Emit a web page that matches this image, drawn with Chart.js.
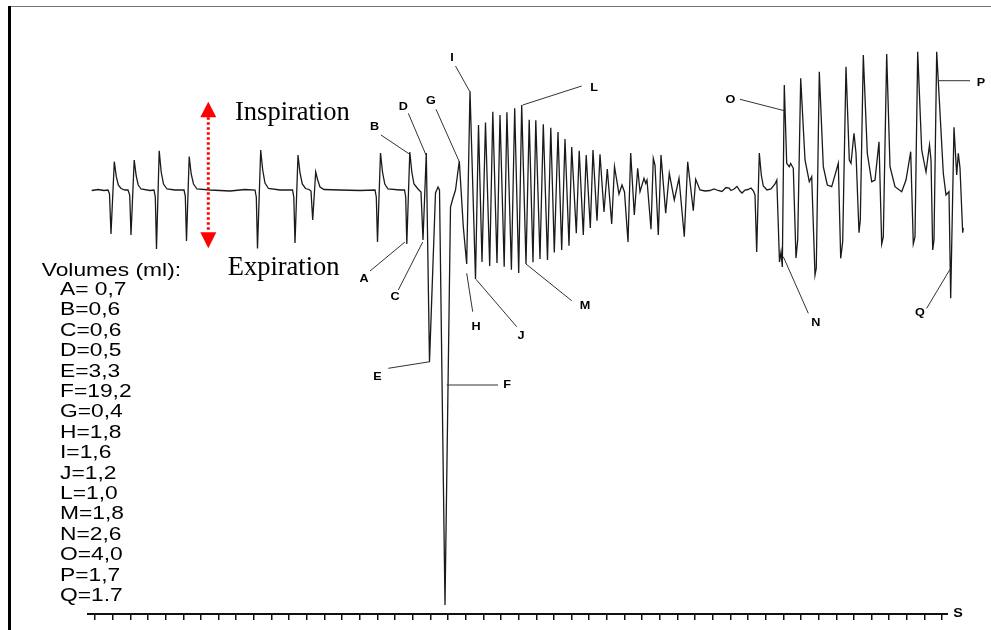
<!DOCTYPE html>
<html><head><meta charset="utf-8">
<script src="https://cdn.jsdelivr.net/npm/chart.js@4.4.1/dist/chart.umd.min.js"></script>
<style>html,body{margin:0;padding:0;background:#fff;}canvas{display:block}</style>
</head><body>
<canvas id="c" width="991" height="630"></canvas>
<script>
// Respiratory trace: time (sample units, 17.65 per tick) and volume signal (a.u.)
const t = [1.7,8,14,
18,19.5,21,24.3,26.3,28.3,31,35,
38,39.7,41,44.2,46.2,48.2,51,60,
64,65.3,66.5,69.2,71.2,73.5,77,85,
94,95.3,96.5,99.2,101.2,103.5,107,120,140,155,
165,166.3,167.5,170.7,172.7,175,178.5,190,
202.5,203.8,205,208,210,212.3,215.5,219,
221,222.7,225.7,227.7,230,234,250,270,
285,286.3,287.5,290.5,292.5,294.8,298,310,
314.5,315.7,316.8,319.8,321.8,324,328,
331,333,336.3,339.5,345.5,348,349.5,
355,360.5,363,365.5,369.3,
373.3,376.7,380,385.5,
388.5,392,395.5,399.7,402.8,407,410,414.2,416.9,421.4,424.7,428.7,431.7,436,439.2,443,445.8,450,453.3,457.5,460.8,464.3,468,471.7,475,479,481.7,486.3,489.2,493.3,496.2,500.3,503,507,510,514,517.3,521.7,524.5,529,532,534.5,538,540.7,
544.3,547.7,550,554,555.7,557,561,563.3,565,568.3,571,575.7,579.3,584.3,589,594.3,597.7,603.3,605.7,610,
615,620,624,628,632,636,639,641,644,647,650,652,655,658,661,663.5,
665,666.7,669.3,671.3,673.3,677,681,685,686.8,
689.5,691,692.3,694.3,
696.7,699.3,700.7,703.3,706,707.7,710.7,
715,719.3,721.7,725,726.3,729.3,
733.3,737.3,741.7,748.3,750.7,752.7,756,
759.3,761,764,766,769,770.3,773.3,
777.3,781.7,785,789,791.7,793.3,796.7,
800,805,811.7,816,820.7,823.3,825,827.7,
831.7,836,839.5,841,842.7,844,846.7,
853.3,856,859,860.7,864,866.7,868.3,870,872.7,873.3];
const v = [-0.5,0.5,-0.5,
0,-4,-44,28.3,13.3,5,1.5,0,
0,-5,-45,30,14,5,1,-0.5,
0,-7,-59,39.3,18,6,1,0,
0,-6,-51,33.5,16,6,1,0,-1,0.5,
0,-7,-58.5,40,20,7,1.5,0,
0,-7,-53,35,17,6,1.5,0.5,
-1,-30,18,10,3,0.5,0,-0.5,
0,-7,-52,37,18,6,1,0,
0,-7,-54,38,18,6,1,
-2,-50,37,-172,-3,3,0,
-415,-17,-8,0,29,
-36.7,-74,99,-89,
65,-72,67.5,-76,78.3,-73,75,-76.7,77.8,-79.7,81.7,-83,85,-74,70.3,-72.2,69.7,-69,65.8,-70,62.2,-62.5,58,-60,51,-55.8,43,-43.3,39.3,-45,35,-38,40,-30.7,35.8,-22,21,-34,23.3,-4,5,-2,-52,37,
-25,21.7,-1.7,11.7,6.7,10,-39.3,31.7,25,-45,35,-23.3,16.7,-10,11.7,-46.7,28.3,-20.7,10.7,0,
-1,-0.5,1,-0.5,-1.5,2.5,2,-0.5,1,3.5,-1,-3,0,0.5,2,-1,
-5,-62,37,15,4,0,1,6,10,
-72,-62,-77,105,
26.7,23.3,26.5,21.7,-68,-50,111.7,
30,8.3,13.3,-85,-78,118.3,
23.3,5,3.3,26.7,-68.3,-51.7,123.3,
30,26.7,56.7,36.7,-42.7,-30,135,
36.7,8.3,10,48.3,-54,-47,136,
23.3,3.3,-1.7,10,38.3,-54,-47,138.3,
40,18,45,30,-60,-50,138.3,
16.7,-5,-1.7,-108.3,62.7,15,36.7,22,-42.7,-38];

// Volume annotations
const volumeHeader = 'Volumes (ml):';
const volumeLines = ['A= 0,7','B=0,6','C=0,6','D=0,5','E=3,3','F=19,2','G=0,4','H=1,8','I=1,6','J=1,2','L=1,0','M=1,8','N=2,6','O=4,0','P=1,7','Q=1.7'];

// Marker letters and their leader lines (in data units)
const markNames = ['A','B','C','D','E','F','G','H','I','J','L','M','N','O','P','Q'];
const markLabelT = [274,284.5,305,313.3,287.5,417,341,386,362,431,504,495,725.7,640.5,891,830];
const markLabelV = [-89,63,-107,83.5,-187,-195,89,-137,132,-146,102.5,-116,-133.3,90.5,107.5,-123.3];
const leadFromT = [280,291,308.3,318.3,298.3,356.7,346,382.7,365.5,426.7,491.7,481.7,718.3,650,848.3,836.7];
const leadFromV = [-81,55,-100,76.7,-178.3,-195,80.7,-121.7,124,-136.7,104,-110.7,-123.3,90.7,109.3,-118.3];
const leadToT = [315,319.3,332.7,336,340,408,369.3,376.7,379.5,386,432.7,436,693.3,694.3,880,860];
const leadToV = [-52,36,-52,35,-171.7,-195,28.3,-83.3,99,-89.3,85,-74,-66.7,79.3,109.3,-79.3];

const TICK_STEP = 17.65, TICK_COUNT = 49, TICK_START = 5;
const AXIS_START = -3, AXIS_END = 858;

const points = t.map((x, i) => ({x, y: v[i]}));

function sansText(ctx, str, px, py, size, bold, align, sx) {
  ctx.save();
  ctx.translate(px, py);
  ctx.scale(sx, 1);
  ctx.font = (bold ? 'bold ' : '') + size + 'px "Liberation Sans", Arial, sans-serif';
  ctx.textAlign = align;
  ctx.fillStyle = '#000';
  ctx.fillText(str, 0, 0);
  ctx.restore();
}

const decor = {
  id: 'decor',
  beforeDraw(chart) {
    const ctx = chart.ctx;
    ctx.save();
    ctx.fillStyle = '#fff';
    ctx.fillRect(0, 0, chart.width, chart.height);
    ctx.fillStyle = '#777';
    ctx.fillRect(10, 6, chart.width - 10, 1);
    ctx.fillStyle = '#000';
    ctx.fillRect(8, 6, 3, chart.height - 6);
    ctx.restore();
  },
  afterDraw(chart) {
    const {ctx, scales: {x, y}} = chart;
    const X = a => x.getPixelForValue(a), Y = a => y.getPixelForValue(a);
    ctx.save();
    // axis line
    ctx.strokeStyle = '#111';
    ctx.lineWidth = 2;
    ctx.beginPath();
    ctx.moveTo(X(AXIS_START), y.bottom);
    ctx.lineTo(X(AXIS_END), y.bottom);
    ctx.stroke();
    sansText(ctx, 'S', X(AXIS_END) + 10, y.bottom + 3, 13, true, 'center', 1.1);

    // leader lines
    ctx.strokeStyle = '#333';
    ctx.lineWidth = 1;
    for (let i = 0; i < markNames.length; i++) {
      ctx.beginPath();
      ctx.moveTo(X(leadFromT[i]), Y(leadFromV[i]));
      ctx.lineTo(X(leadToT[i]), Y(leadToV[i]));
      ctx.stroke();
    }
    ctx.textBaseline = 'middle';
    for (let i = 0; i < markNames.length; i++) {
      sansText(ctx, markNames[i], X(markLabelT[i]), Y(markLabelV[i]), 11.5, true, 'center', 1.1);
    }
    ctx.textBaseline = 'alphabetic';

    // red dotted double arrow
    const ax = X(118.3);
    ctx.strokeStyle = '#f00';
    ctx.lineWidth = 3;
    ctx.setLineDash([2.5, 2.5]);
    ctx.beginPath();
    ctx.moveTo(ax, Y(72.7));
    ctx.lineTo(ax, Y(-42.3));
    ctx.stroke();
    ctx.setLineDash([]);
    ctx.fillStyle = '#f00';
    ctx.beginPath();
    ctx.moveTo(ax, Y(88.3)); ctx.lineTo(ax - 8, Y(72.7)); ctx.lineTo(ax + 8, Y(72.7)); ctx.closePath(); ctx.fill();
    ctx.beginPath();
    ctx.moveTo(ax, Y(-58.3)); ctx.lineTo(ax - 8, Y(-42.3)); ctx.lineTo(ax + 8, Y(-42.3)); ctx.closePath(); ctx.fill();

    // serif labels
    ctx.fillStyle = '#000';
    ctx.font = '26.5px "Liberation Serif", "Times New Roman", serif';
    ctx.textAlign = 'left';
    ctx.fillText('Inspiration', X(145), Y(70));
    ctx.fillText('Expiration', X(137.7), Y(-85));

    // volumes list
    sansText(ctx, volumeHeader, X(-48.3), Y(-86), 19, false, 'left', 1.2);
    for (let i = 0; i < volumeLines.length; i++) {
      sansText(ctx, volumeLines[i], X(-30), Y(-105 - 20.4 * i), 19, false, 'left', 1.2);
    }
    ctx.restore();
  }
};

new Chart(document.getElementById('c'), {
  type: 'line',
  data: {
    datasets: [{
      data: points,
      borderColor: '#1a1a1a',
      borderWidth: 1.3,
      pointRadius: 0,
      tension: 0,
      fill: false
    }]
  },
  options: {
    responsive: false,
    animation: false,
    devicePixelRatio: 1,
    layout: {padding: {left: 87, right: 21, top: 7, bottom: 10}},
    plugins: {legend: {display: false}, tooltip: {enabled: false}},
    scales: {
      x: {
        type: 'linear',
        min: -3, max: 880,
        afterBuildTicks: s => {
          s.ticks = Array.from({length: TICK_COUNT}, (_, i) => ({value: TICK_START + i * TICK_STEP}));
        },
        ticks: {display: false},
        border: {display: false},
        grid: {drawOnChartArea: false, drawTicks: true, tickLength: 6, color: '#111', lineWidth: 1.5}
      },
      y: {
        type: 'linear',
        display: false,
        min: -424, max: 183
      }
    }
  },
  plugins: [decor]
});
</script>
</body></html>
